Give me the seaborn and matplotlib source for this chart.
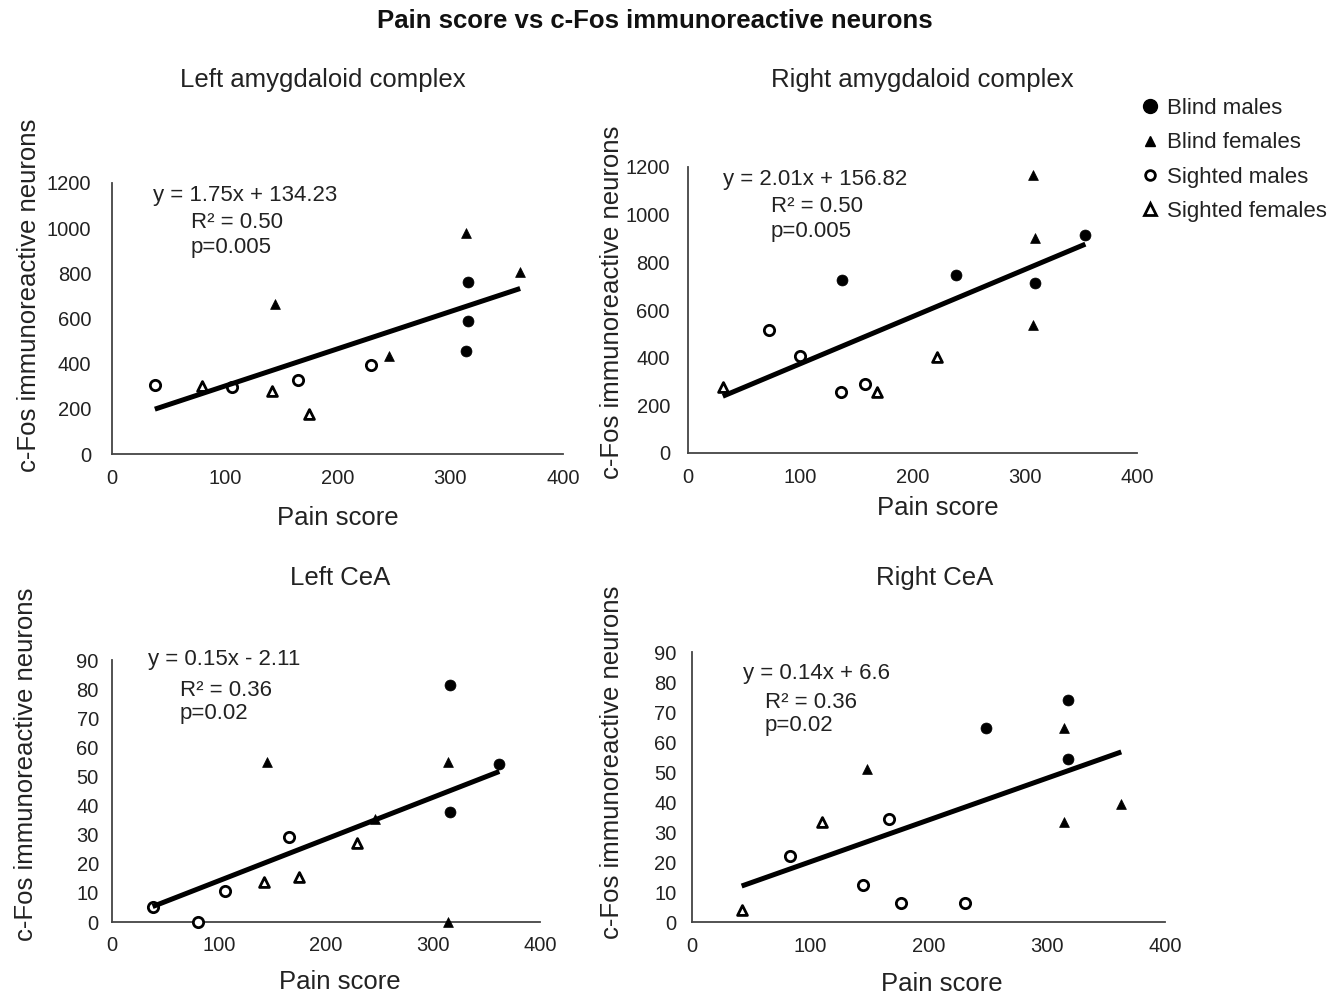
import matplotlib
matplotlib.use("Agg")
import matplotlib.pyplot as plt
from matplotlib import font_manager
from matplotlib.lines import Line2D
import seaborn as sns
import pandas as pd

# ---------------- data ----------------
groups = ["Blind males", "Blind females", "Sighted males", "Sighted females"]

# Left amygdaloid complex
la_group = ["Sighted males", "Sighted females", "Sighted males", "Blind females", "Sighted females",
            "Sighted males", "Sighted females", "Sighted males", "Blind females", "Blind females",
            "Blind males", "Blind males", "Blind males", "Blind females"]
la_pain = [38, 80, 106, 145, 142, 165, 175, 230, 246, 314, 316, 316, 314, 362]
la_cfos = [305, 300, 297, 665, 280, 328, 175, 393, 435, 980, 760, 587, 455, 805]

# Right amygdaloid complex
ra_group = ["Sighted females", "Sighted males", "Sighted males", "Sighted males", "Blind males",
            "Sighted males", "Sighted females", "Sighted females", "Blind males", "Blind females",
            "Blind females", "Blind males", "Blind females", "Blind males"]
ra_pain = [31, 72, 100, 136, 137, 158, 168, 222, 239, 307, 309, 309, 307, 354]
ra_cfos = [278, 515, 405, 257, 726, 290, 255, 403, 745, 1165, 903, 712, 537, 915]

# Left CeA
lc_group = ["Sighted males", "Sighted males", "Sighted males", "Sighted females", "Blind females",
            "Sighted males", "Sighted females", "Sighted females", "Blind females", "Blind males",
            "Blind females", "Blind males", "Blind females", "Blind males"]
lc_pain = [38, 80, 106, 142, 145, 165, 175, 229, 246, 316, 314, 316, 314, 362]
lc_cfos = [5.2, 0, 10.7, 13.6, 55, 29.2, 15.5, 27.2, 35.3, 81.5, 55, 37.8, 0, 54.3]

# Right CeA
rc_group = ["Sighted females", "Sighted males", "Sighted females", "Blind females", "Sighted males",
            "Sighted males", "Sighted males", "Sighted males", "Blind males", "Blind males",
            "Blind females", "Blind males", "Blind females", "Blind females"]
rc_pain = [42, 83, 110, 148, 145, 167, 177, 231, 249, 318, 315, 318, 315, 363]
rc_cfos = [4.1, 21.9, 33.3, 51.1, 12.5, 34.5, 6.5, 6.3, 64.8, 74.1, 64.7, 54.5, 33.3, 39.5]

panel_titles = ["Left amygdaloid complex", "Right amygdaloid complex", "Left CeA", "Right CeA"]
equations = [["y = 1.75x + 134.23", "R² = 0.50", "p=0.005"],
             ["y = 2.01x + 156.82", "R² = 0.50", "p=0.005"],
             ["y = 0.15x - 2.11", "R² = 0.36", "p=0.02"],
             ["y = 0.14x + 6.6", "R² = 0.36", "p=0.02"]]
x_ticks = [0, 100, 200, 300, 400]
y_ticks_amyg = [0, 200, 400, 600, 800, 1000, 1200]
y_ticks_cea = [0, 10, 20, 30, 40, 50, 60, 70, 80, 90]

# ---------------- style ----------------
sns.set_style("white")
names = {f.name for f in font_manager.fontManager.ttflist}
HAS_NARROW = "Liberation Sans Narrow" in names
REG = ["Liberation Sans", "DejaVu Sans"]
NAR = ["Liberation Sans Narrow", "Liberation Sans", "DejaVu Sans"] if HAS_NARROW else REG
plt.rcParams["font.family"] = REG

if HAS_NARROW:
    LAB_FS, TICK_FS, MAIN_FS = 22.5, 17.5, 22.5
else:
    LAB_FS, TICK_FS, MAIN_FS = 18.5, 14.5, 18.5
ANN_FS = 16
LEG_FS = 16

W, H = 1344, 1001
fig = plt.figure(figsize=(W / 100, H / 100), dpi=100)

def px_axes(l, r, t, b):
    return fig.add_axes([l / W, (H - b) / H, (r - l) / W, (b - t) / H])

styles = {
    "Blind males": dict(marker="o", s=62, color="black", edgecolor="black", linewidth=0.5),
    "Blind females": dict(marker="^", s=50, color="black", edgecolor="black", linewidth=0.5),
    "Sighted males": dict(marker="o", s=55, color="white", edgecolor="black", linewidth=2.0),
    "Sighted females": dict(marker="^", s=50, color="white", edgecolor="black", linewidth=2.0),
}

panels = [
    dict(box=(112, 563, 183, 454), grp=la_group, x=la_pain, y=la_cfos, ylim=1200, yt=y_ticks_amyg,
         ypad=15, xpad=11, xl=(0.50, -0.235), yl=(-0.184, 0.587),
         title=(323, 80), ann=[(153, 195), (191, 223), (191, 248)]),
    dict(box=(688, 1137, 167, 453), grp=ra_group, x=ra_pain, y=ra_cfos, ylim=1200, yt=y_ticks_amyg,
         ypad=13, xpad=11, xl=(0.557, -0.192), yl=(-0.169, 0.528),
         title=(922, 80), ann=[(723, 180), (771, 207), (771, 231)]),
    dict(box=(112, 540, 660, 922), grp=lc_group, x=lc_pain, y=lc_cfos, ylim=90, yt=y_ticks_cea,
         ypad=9.5, xpad=10, xl=(0.533, -0.229), yl=(-0.201, 0.60),
         title=(340, 578), ann=[(148, 660), (180, 690), (180, 714)]),
    dict(box=(692, 1165, 652, 922), grp=rc_group, x=rc_pain, y=rc_cfos, ylim=90, yt=y_ticks_cea,
         ypad=11, xpad=10.5, xl=(0.529, -0.230), yl=(-0.169, 0.593),
         title=(935, 578), ann=[(743, 673), (765, 702), (765, 726)]),
]

for i, p in enumerate(panels):
    ax = px_axes(*p["box"])
    df = pd.DataFrame({"group": p["grp"], "pain": p["x"], "cfos": p["y"]})
    for g in groups:
        sub = df[df["group"] == g]
        sns.scatterplot(data=sub, x="pain", y="cfos", ax=ax, zorder=3, legend=False,
                        clip_on=False, **styles[g])
    sns.regplot(data=df, x="pain", y="cfos", ax=ax, scatter=False, ci=None, truncate=True,
                line_kws=dict(color="black", lw=3.6, zorder=4, solid_capstyle="butt"))
    ax.set_xlim(0, 400)
    ax.set_ylim(0, p["ylim"])
    ax.set_xticks(x_ticks)
    ax.set_yticks(p["yt"])
    ax.tick_params(axis="both", length=0, labelsize=TICK_FS, colors="#222222")
    ax.tick_params(axis="y", pad=p["ypad"])
    ax.tick_params(axis="x", pad=p["xpad"])
    for lab in ax.get_xticklabels() + ax.get_yticklabels():
        lab.set_family(NAR)
    for side in ["top", "right"]:
        ax.spines[side].set_visible(False)
    for side in ["left", "bottom"]:
        ax.spines[side].set_color("#444444")
        ax.spines[side].set_linewidth(1.3)
    ax.set_xlabel("Pain score", fontsize=LAB_FS, family=NAR, color="#222222")
    ax.set_ylabel("c-Fos immunoreactive neurons", fontsize=LAB_FS, family=NAR, color="#222222")
    ax.xaxis.label.set_va("center")
    ax.yaxis.label.set_va("center")
    ax.xaxis.set_label_coords(*p["xl"])
    ax.yaxis.set_label_coords(*p["yl"])
    tx, ty = p["title"]
    fig.text(tx / W, 1 - ty / H, panel_titles[i], ha="center", va="center",
             fontsize=LAB_FS, family=NAR, color="#222222")
    for (axp, ayp), txt in zip(p["ann"], equations[i]):
        fig.text(axp / W, 1 - ayp / H, txt, ha="left", va="center", fontsize=ANN_FS,
                 family=REG, color="#222222")

fig.text(655 / W, 1 - 21 / H, "Pain score vs c-Fos immunoreactive neurons", ha="center",
         va="center", fontsize=MAIN_FS, fontweight="bold", family=NAR, color="#111111")

handles = [
    Line2D([], [], ls="none", marker="o", markersize=10, color="black"),
    Line2D([], [], ls="none", marker="^", markersize=7.5, color="black"),
    Line2D([], [], ls="none", marker="o", markersize=7, markerfacecolor="white",
           markeredgecolor="black", markeredgewidth=2),
    Line2D([], [], ls="none", marker="^", markersize=8, markerfacecolor="white",
           markeredgecolor="black", markeredgewidth=2),
]
leg = fig.legend(handles, groups, loc="upper left", bbox_to_anchor=(1140 / W, 1 - 98 / H),
                 frameon=False, borderpad=0, borderaxespad=0,
                 handlelength=0.9, handletextpad=0.3, labelspacing=0.6,
                 prop={"family": REG, "size": LEG_FS})
for t in leg.get_texts():
    t.set_color("#222222")

fig.savefig("out.png", dpi=100)
